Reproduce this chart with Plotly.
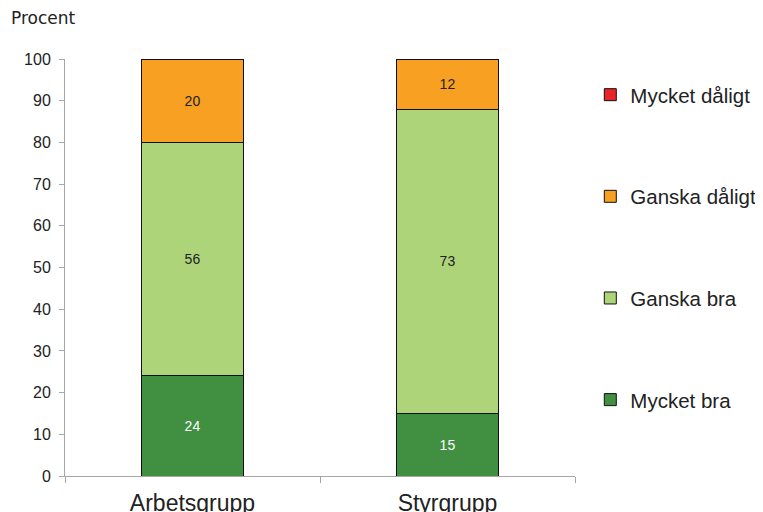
import plotly.graph_objects as go

categories = ["Arbetsgrupp", "Styrgrupp"]
series_names = ["Mycket bra", "Ganska bra", "Ganska dåligt", "Mycket dåligt"]
mycket_bra = [24, 15]
ganska_bra = [56, 73]
ganska_daligt = [20, 12]
mycket_daligt = [0, 0]
y_ticks = [0, 10, 20, 30, 40, 50, 60, 70, 80, 90, 100]

values = [mycket_bra, ganska_bra, ganska_daligt, mycket_daligt]
colors = ["#418F40", "#AED47A", "#F7A021", "#E8242A"]
text_colors = ["#ffffff", "#222222", "#222222", "#222222"]

fig = go.Figure()
for i, (name, vals, col, tc) in enumerate(zip(series_names, values, colors, text_colors)):
    fig.add_trace(go.Bar(
        x=categories, y=vals, name=name, legendgroup=name,
        legendrank=len(series_names) - i,
        marker=dict(color=col, line=dict(color="#111111", width=1)),
        text=[str(v) if v > 0 else "" for v in vals],
        textposition="inside", insidetextanchor="middle",
        textfont=dict(color=tc, size=14, family="Liberation Sans, Arial"),
        width=0.4,
    ))

fig.update_layout(
    barmode="stack",
    width=771, height=520,
    margin=dict(l=57, r=204, t=51, b=52, autoexpand=False),
    plot_bgcolor="white", paper_bgcolor="white",
    font=dict(family="Liberation Sans, Arial", color="#222222"),
    showlegend=True,
    legend=dict(
        traceorder="grouped", x=1.03, xanchor="left", y=0.962, yanchor="top",
        font=dict(size=20.5, family="Liberation Sans, Arial", color="#222222"),
        tracegroupgap=72, itemwidth=30,
    ),
    xaxis=dict(
        showline=True, linecolor="#A6A6A6", linewidth=1, automargin=False,
        ticks="outside", tickson="boundaries", ticklen=6, tickcolor="#A6A6A6",
        ticklabelstandoff=6,
        tickfont=dict(size=23, family="Liberation Sans, Arial", color="#222222"),
        showgrid=False,
    ),
    yaxis=dict(
        range=[0, 100], tickvals=y_ticks, automargin=False,
        showline=True, linecolor="#A6A6A6", linewidth=1,
        ticks="outside", ticklen=5, tickcolor="#A6A6A6",
        ticklabelstandoff=5,
        tickfont=dict(size=16, family="Liberation Sans, Arial", color="#222222"),
        showgrid=False, zeroline=False,
    ),
    annotations=[dict(
        text="Procent", xref="paper", yref="paper", x=-0.11, y=1.098,
        xanchor="left", yanchor="middle", showarrow=False,
        font=dict(size=17, family="DejaVu Sans, Verdana", color="#222222"),
    )],
)

fig.write_html("out.html")
